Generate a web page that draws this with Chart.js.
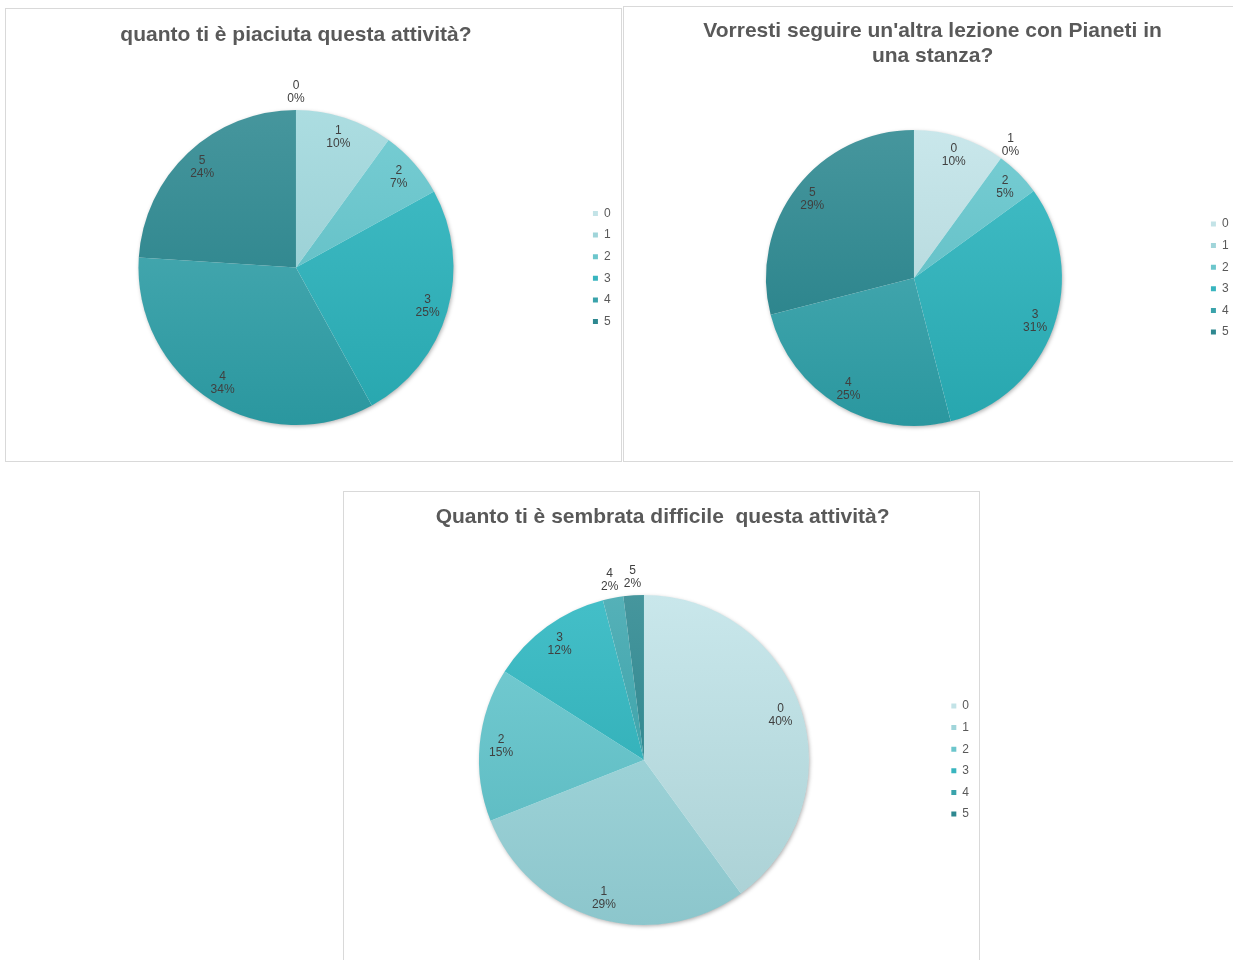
<!DOCTYPE html>
<html>
<head>
<meta charset="utf-8">
<script src="https://cdn.jsdelivr.net/npm/chart.js@4.4.0/dist/chart.umd.min.js"></script>
<style>
body { margin: 0; background: #fff; overflow: hidden; width: 1233px; height: 960px; position: relative; }
.panel { position: absolute; border: 1px solid #d9d9d9; background: #fff; }
.panel canvas { display: block; }
</style>
</head>
<body>
<div class="panel" style="left:5px;top:8px;width:615px;height:452px"><canvas id="likedChart" width="615" height="452"></canvas></div>
<div class="panel" style="left:623px;top:6px;width:615px;height:454px"><canvas id="againChart" width="615" height="454"></canvas></div>
<div class="panel" style="left:343px;top:491px;width:635px;height:478px"><canvas id="difficultChart" width="635" height="478"></canvas></div>
<script>
// answers 0..5, percentages
const categories = ['0', '1', '2', '3', '4', '5'];
const likedValues = [0, 10, 7, 25, 34, 24];
const againValues = [10, 0, 5, 31, 25, 29];
const difficultValues = [40, 29, 15, 12, 2, 2];

const likedTitle = 'quanto ti è piaciuta questa attività?';
const againTitle = ["Vorresti seguire un'altra lezione con Pianeti in", 'una stanza?'];
const difficultTitle = 'Quanto ti è sembrata difficile  questa attività?';

// slice shading (top -> bottom) and flat legend colours
const topColors = ['#c9e7eb', '#acdde1', '#78ced4', '#44bfc8', '#55b1b8', '#46969d'];
const bottomColors = ['#a9d0d4', '#8cc6cc', '#55b6bd', '#27a6ae', '#2a979f', '#1f7c84'];
const legendColors = ['#c3e3e7', '#a0d5da', '#6cc6cc', '#38b5bf', '#3aa3ab', '#2e8890'];

const FONT = '"Liberation Sans", Arial, sans-serif';

// soft shadow under the whole pie
const pieShadow = {
    id: 'pieShadow',
    beforeDatasetsDraw(chart) {
        const arc = chart.getDatasetMeta(0).data[0];
        if (!arc) return;
        const p = arc.getProps(['x', 'y', 'outerRadius'], true);
        const ctx = chart.ctx;
        ctx.save();
        ctx.shadowColor = 'rgba(0, 0, 0, 0.35)';
        ctx.shadowBlur = 4;
        ctx.shadowOffsetX = 1;
        ctx.shadowOffsetY = 1.5;
        ctx.fillStyle = '#ffffff';
        ctx.beginPath();
        ctx.arc(p.x, p.y, p.outerRadius - 0.5, 0, Math.PI * 2);
        ctx.fill();
        ctx.restore();
    }
};

// draws "category / percent" on each slice, small slices get it outside
const sliceLabels = {
    id: 'sliceLabels',
    afterDatasetsDraw(chart) {
        const ctx = chart.ctx;
        const meta = chart.getDatasetMeta(0);
        const values = chart.data.datasets[0].data;
        ctx.save();
        ctx.font = '12px ' + FONT;
        ctx.fillStyle = '#404040';
        ctx.textAlign = 'center';
        ctx.textBaseline = 'middle';
        meta.data.forEach((arc, i) => {
            const p = arc.getProps(['x', 'y', 'startAngle', 'endAngle', 'outerRadius'], true);
            const mid = (p.startAngle + p.endAngle) / 2;
            const dist = values[i] <= 2 ? p.outerRadius * 1.11 : p.outerRadius * 0.87;
            const lx = p.x + Math.cos(mid) * dist;
            const ly = p.y + Math.sin(mid) * dist;
            ctx.fillText(chart.data.labels[i], lx, ly - 6.5);
            ctx.fillText(values[i] + '%', lx, ly + 6.5);
        });
        ctx.restore();
    }
};

function makePie(id, values, title, titleOpts, layoutPadding) {
    const ctx = document.getElementById(id).getContext('2d');
    return new Chart(ctx, {
        type: 'pie',
        plugins: [pieShadow, sliceLabels],
        data: {
            labels: categories,
            datasets: [{
                data: values,
                borderWidth: 0,
                backgroundColor: function(c) {
                    const area = c.chart.chartArea;
                    if (!area) return topColors[c.dataIndex];
                    const g = c.chart.ctx.createLinearGradient(0, area.top, 0, area.bottom);
                    g.addColorStop(0, topColors[c.dataIndex]);
                    g.addColorStop(1, bottomColors[c.dataIndex]);
                    return g;
                }
            }]
        },
        options: {
            responsive: false,
            animation: false,
            layout: { padding: layoutPadding },
            plugins: {
                title: {
                    display: true,
                    text: title,
                    color: '#595959',
                    fullSize: titleOpts.fullSize,
                    font: { family: FONT, size: 21, weight: 'bold', lineHeight: titleOpts.lineHeight },
                    padding: titleOpts.padding
                },
                legend: {
                    position: 'right',
                    fullSize: false,
                    labels: {
                        boxWidth: 5,
                        boxHeight: 5,
                        padding: 9.6,
                        color: '#595959',
                        font: { family: FONT, size: 12 },
                        generateLabels: function(chart) {
                            const items = Chart.overrides.pie.plugins.legend.labels.generateLabels(chart);
                            items.forEach((item, i) => {
                                item.fillStyle = legendColors[i];
                                item.strokeStyle = legendColors[i];
                                item.lineWidth = 0;
                            });
                            return items;
                        }
                    }
                },
                tooltip: { enabled: false }
            }
        }
    });
}

makePie('likedChart', likedValues, likedTitle,
    { fullSize: false, lineHeight: 1.2, padding: { top: 13.4, bottom: 62.4 } },
    { left: 2.6, right: 0.4, top: 0, bottom: 36 });
makePie('againChart', againValues, againTitle,
    { fullSize: true, lineHeight: 25 / 21, padding: { top: 12, bottom: 61 } },
    { left: 2.6, right: 0.4, top: 0, bottom: 35 });
makePie('difficultChart', difficultValues, difficultTitle,
    { fullSize: true, lineHeight: 1.2, padding: { top: 12.4, bottom: 65.4 } },
    { left: 2.2, right: 0, top: 0, bottom: 45 });
</script>
</body>
</html>
